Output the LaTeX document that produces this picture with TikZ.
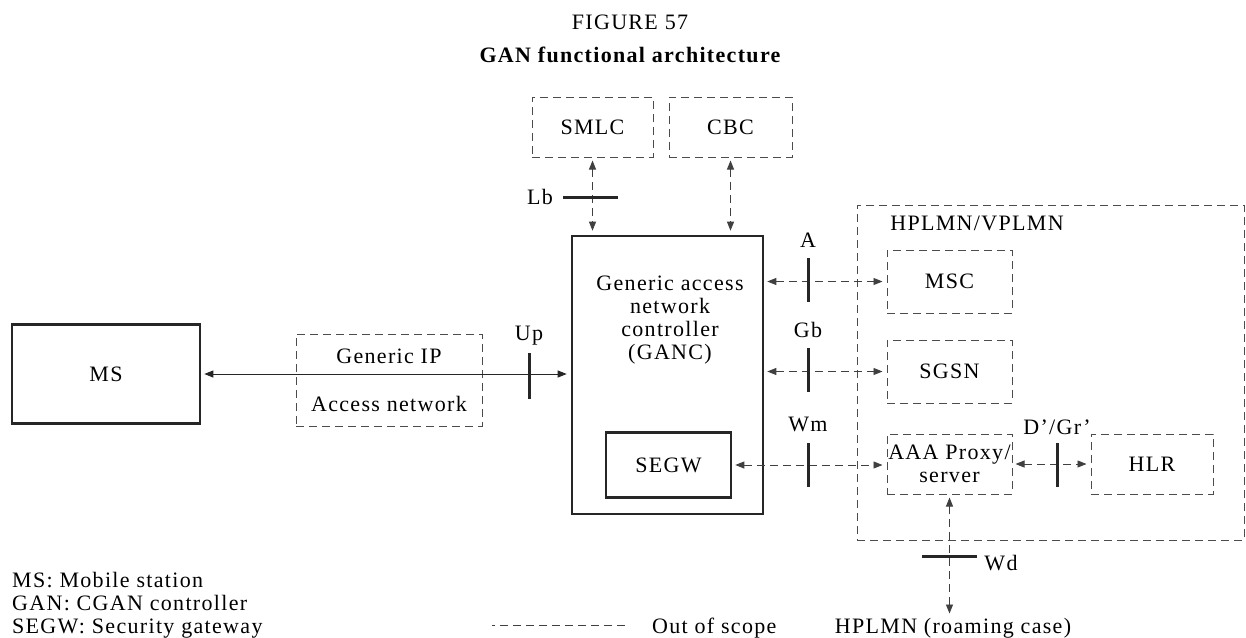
\documentclass[tikz,border=0pt]{standalone}
\usepackage{fontspec}
\setmainfont{Liberation Serif}[LetterSpace=6]
\usetikzlibrary{arrows.meta}

\begin{document}
\begin{tikzpicture}[
x=1pt, y=-1pt,
font=\fontsize{22}{23}\selectfont,
box/.style={draw=black!85, line width=2.6pt, align=center, inner sep=0pt},
dbox/.style={draw=black!70, line width=1pt, dash pattern=on 8pt off 5pt, align=center, inner sep=0pt},
lbl/.style={inner sep=0pt, align=center},
link/.style={arrows={Triangle[length=9pt,width=7pt]-Triangle[length=9pt,width=7pt]}, line width=0.9pt, draw=black!75, dash pattern=on 8pt off 5pt, shorten <=3pt, shorten >=4pt},
solidlink/.style={link, solid, draw=black!85},
tick/.style={line width=3pt, draw=black!85}
]
\useasboundingbox (0,0) rectangle (1246,637);

% title
\node[lbl] (fig) at (630,22) {FIGURE 57};
\node[lbl, font=\fontsize{22}{23}\selectfont\bfseries] (title) at (630,55) {GAN functional architecture};

% boxes
\node[dbox, minimum width=121, minimum height=60] (smlc) at (592.5,127) {SMLC};
\node[dbox, minimum width=123, minimum height=60] (cbc) at (730.5,127) {CBC};
\node[box, minimum width=188, minimum height=99] (ms) at (106,374) {MS};
\node[dbox, minimum width=186, minimum height=92] (gip) at (389,380) {Generic IP\\[25pt]Access network};
\node[box, minimum width=191, minimum height=278] (ganc) at (667.5,375) {};
\node[lbl] (gancname) at (670,320) {Generic access\\network\\controller\\(GANC)};
\node[box, minimum width=125, minimum height=65] (segw) at (668.5,465) {SEGW};
\node[dbox, minimum width=387, minimum height=335] (plmn) at (1050.5,372.5) {};
\node[lbl] (plmnname) at (977,223) {HPLMN/VPLMN};
\node[dbox, minimum width=125, minimum height=63] (msc) at (949.5,281.5) {MSC};
\node[dbox, minimum width=125, minimum height=63] (sgsn) at (949.5,371.5) {SGSN};
\node[dbox, minimum width=125, minimum height=60] (aaa) at (949.5,464) {AAA Proxy/\\server};
\node[dbox, minimum width=122, minimum height=60] (hlr) at (1152,464) {HLR};
\node[lbl, anchor=base] (roam) at (953,633) {HPLMN (roaming case)};

% interface labels
\node[lbl] (lb) at (540,197) {Lb};
\node[lbl] (up) at (529,336) {Up};
\node[lbl] (a) at (808,240) {A};
\node[lbl] (gb) at (808,330) {Gb};
\node[lbl] (wm) at (808,424) {Wm};
\node[lbl] (dgr) at (1057,427) {D’/Gr’};
\node[lbl] (wd) at (1001,563) {Wd};

% legend
\node[lbl, anchor=base west] (leg1) at (12,587) {MS: Mobile station};
\node[lbl, anchor=base west] (leg2) at (12,610) {GAN: CGAN controller};
\node[lbl, anchor=base west] (leg3) at (12,633) {SEGW: Security gateway};
\node[lbl, anchor=base west] (oos) at (652,633) {Out of scope};

% connectors
\draw[link] (smlc.south) -- (smlc.south |- ganc.north);
\draw[link] (cbc.south) -- (cbc.south |- ganc.north);
\draw[solidlink] (ms.east) -- (ms.east -| ganc.west);
\draw[link] (ganc.east |- msc) -- (msc.west);
\draw[link] (ganc.east |- sgsn) -- (sgsn.west);
\draw[link] (segw.east) -- (segw.east -| aaa.west);
\draw[link] (aaa.east) -- (hlr.west);
\draw[link] (aaa.south) -- (aaa.south |- roam.north);
\draw[draw=black!75, line width=0.9pt, dash pattern=on 8pt off 5pt] (oos.base west) ++(-27,-8) -- ++(-133,0);

% interface ticks
\draw[tick] (563,197) -- (618,197);
\draw[tick] (529,353) -- (529,399);
\draw[tick] (808,258) -- (808,302);
\draw[tick] (808,348) -- (808,392);
\draw[tick] (808,443) -- (808,487);
\draw[tick] (1057,443) -- (1057,487);
\draw[tick] (922,556) -- (977,556);
\end{tikzpicture}
\end{document}
